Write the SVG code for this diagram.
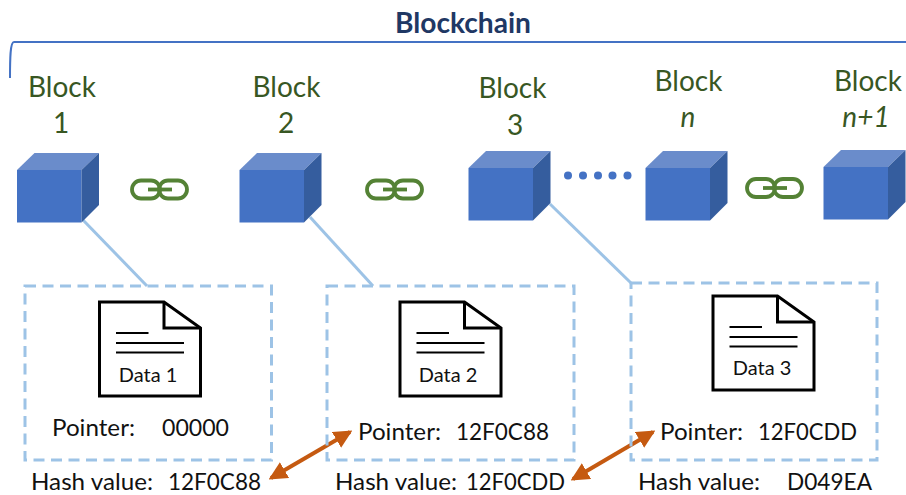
<svg xmlns="http://www.w3.org/2000/svg" width="906" height="495" viewBox="0 0 906 495">
<style>
text{font-family:"Lato","Open Sans","Liberation Sans",sans-serif}
.title{font-size:28.5px;font-weight:700;fill:#1F3864}
.bl{font-size:28px;fill:#385723;text-anchor:middle}
.it{font-style:italic}
.d{font-size:20px;fill:#111;text-anchor:middle}
.t{font-size:23.5px;fill:#111}
.front{fill:#4472C4}.top{fill:#6A8CCB}.side{fill:#355D9E}
.box{fill:none;stroke:#9DC3E6;stroke-width:3;stroke-dasharray:11 6.5}
.link{stroke:#9DC3E6;stroke-width:3;fill:none}
.arrow{stroke:#C55A11;stroke-width:4;fill:none;marker-start:url(#ah);marker-end:url(#ah)}
.doc{fill:none;stroke:#000;stroke-width:3}
.ln{stroke:#000;stroke-width:2.2}
.ch{fill:none;stroke:#548235;stroke-width:3.8}
</style>
<defs>
<marker id="ah" viewBox="0 0 10 10" refX="8.5" refY="5" markerWidth="4.6" markerHeight="4.6" orient="auto-start-reverse"><path d="M0 0L10 5L0 10Z" fill="#C55A11"/></marker>
<g id="cube">
<path class="front" d="M0 17H64.5V69.5H0Z"/><path class="top" d="M0 17L17.5 0H82L64.5 17Z"/><path class="side" d="M64.500 17L82 0V52L64.500 69.500Z"/>
</g>
<g id="chain">
<rect class="ch" x="2" y="2.500" width="28" height="18" rx="9"/>
<rect class="ch" x="29" y="2.500" width="28" height="18" rx="9"/>
<path class="ch" d="M18 11.500H42"/>
</g>
<g id="doc">
<path class="doc" d="M0 0H64.500L101 26V94H0Z"/><path class="doc" d="M64.500 0V26H101"/>
<path class="ln" d="M16.500 31H49M16.500 41H84.500M16.500 50.500H84.500"/>
</g>
</defs>
<g id="connectors">
<path class="link" d="M83 220L147 286"/><path class="link" d="M310 217L373 286"/><path class="link" d="M550 204L631 283"/>
<path class="arrow" d="M271 478L350 432"/><path class="arrow" d="M573 479L653 432"/>
</g>
<g id="blockchain-title">
<text class="title" x="395" y="33" textLength="136" lengthAdjust="spacingAndGlyphs">Blockchain</text>
<path d="M10 78C10 60 10 42 14 42H906" fill="none" stroke="#4472C4" stroke-width="2"/>
</g>
<g id="block-1"><use href="#cube" x="17" y="153"/><text class="bl" x="62" y="97">Block</text><text class="bl" x="61" y="133">1</text></g>
<g id="block-2"><use href="#cube" x="239.500" y="153"/><text class="bl" x="286.500" y="97">Block</text><text class="bl" x="286" y="133">2</text></g>
<g id="block-3"><use href="#cube" x="468.500" y="151"/><text class="bl" x="512.500" y="98">Block</text><text class="bl" x="515" y="135">3</text></g>
<g id="block-n"><use href="#cube" x="645.500" y="151"/><text class="bl" x="688.500" y="91">Block</text><text class="bl it" x="688" y="127">n</text></g>
<g id="block-n1"><use href="#cube" x="823.500" y="150"/><text class="bl" x="868" y="91">Block</text><text class="bl it" x="866" y="127">n+1</text></g>
<g id="chain-1"><use href="#chain" x="130" y="178"/></g>
<g id="chain-2"><use href="#chain" x="365" y="178"/></g>
<g id="chain-3"><use href="#chain" x="745" y="176.500"/></g>
<g id="dots" fill="#4472C4"><circle cx="568" cy="175.500" r="4"/><circle cx="583" cy="175.500" r="4"/><circle cx="598" cy="175.500" r="4"/><circle cx="612.500" cy="175.500" r="4"/><circle cx="627.500" cy="175.500" r="4"/></g>
<g id="data-1">
<rect class="box" x="25" y="286" width="246.500" height="174"/>
<use href="#doc" x="99.500" y="302"/>
<text class="d" x="148" y="382">Data 1</text>
<text class="t" x="52" y="436" textLength="83" lengthAdjust="spacingAndGlyphs">Pointer:</text><text class="t" x="162" y="436" textLength="67" lengthAdjust="spacingAndGlyphs">00000</text>
<text class="t" x="31" y="490" textLength="122" lengthAdjust="spacingAndGlyphs">Hash value:</text><text class="t" x="168" y="490" textLength="93" lengthAdjust="spacingAndGlyphs">12F0C88</text>
</g>
<g id="data-2">
<rect class="box" x="327" y="286" width="247" height="174"/>
<use href="#doc" x="400" y="302"/>
<text class="d" x="448" y="382">Data 2</text>
<text class="t" x="358" y="440" textLength="83" lengthAdjust="spacingAndGlyphs">Pointer:</text><text class="t" x="456" y="440" textLength="93" lengthAdjust="spacingAndGlyphs">12F0C88</text>
<text class="t" x="335" y="490" textLength="122" lengthAdjust="spacingAndGlyphs">Hash value:</text><text class="t" x="466" y="490" textLength="99" lengthAdjust="spacingAndGlyphs">12F0CDD</text>
</g>
<g id="data-3">
<rect class="box" x="631" y="283" width="246" height="177"/>
<use href="#doc" x="713" y="296"/>
<text class="d" x="762" y="375">Data 3</text>
<text class="t" x="660" y="440" textLength="83" lengthAdjust="spacingAndGlyphs">Pointer:</text><text class="t" x="758" y="440" textLength="99" lengthAdjust="spacingAndGlyphs">12F0CDD</text>
<text class="t" x="638" y="490" textLength="122" lengthAdjust="spacingAndGlyphs">Hash value:</text><text class="t" x="787" y="490" textLength="85" lengthAdjust="spacingAndGlyphs">D049EA</text>
</g>
</svg>
